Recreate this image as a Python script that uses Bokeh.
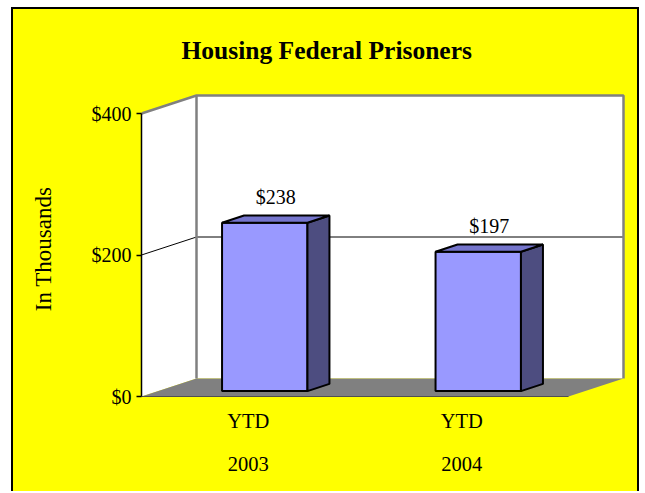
from bokeh.plotting import figure
from bokeh.models import LinearAxis, FixedTicker, Range1d, ColumnDataSource, Title
from bokeh.embed import file_html
from bokeh.resources import INLINE

# ---------------- data ----------------
title_text = "Housing Federal Prisoners"
categories_line1 = ["YTD", "YTD"]
categories_line2 = ["2003", "2004"]
values = [238, 197]
value_labels = ["$238", "$197"]
y_ticks = [0, 200, 400]
y_tick_labels = ["$0", "$200", "$400"]
y_title = "In Thousands"

# ---------------- layout / style constants ----------------
W, H = 628, 484
ML, MR, MT, MB = 128, 2, 84, 89
frame_w = W - ML - MR
frame_h = H - MT - MB
CAT_PX = 213.5          # pixels per category on the front plane
VAL_PX = 0.7075         # pixels per value unit
Y0_PX = 8               # pixels between frame bottom and the value 0
DX = 55 / CAT_PX        # full depth offset in data units
DY = 18 / VAL_PX
F1, F2 = 0.3, 0.7       # bar depth fractions (front, back)
BAR_W = 0.4
FONT = "Liberation Serif"
YELLOW = "#FFFF00"
GREY = "#808080"

ncat = len(values)
ymax = max(y_ticks)

p = figure(width=W, height=H, output_backend="svg", toolbar_location=None,
           x_range=Range1d(0, frame_w / CAT_PX),
           y_range=Range1d(-Y0_PX / VAL_PX, (frame_h - Y0_PX) / VAL_PX),
           x_axis_location=None, y_axis_location=None, title=None,
           min_border_left=ML, min_border_right=MR, min_border_top=MT, min_border_bottom=MB)
p.background_fill_color = YELLOW
p.border_fill_color = YELLOW
p.outline_line_color = None
p.xgrid.visible = False
p.ygrid.visible = False
p.styles = {"margin-left": "11px", "margin-top": "7px", "background-color": YELLOW,
            "border-left": "2px solid black", "border-top": "2px solid black",
            "border-right": "2px solid black"}

main_title = Title(text=title_text, align="left", offset=40, standoff=53, vertical_align="top",
                   text_font=FONT, text_font_size="25.5px", text_font_style="bold",
                   text_color="black")
p.add_layout(main_title, "above")

# ---------------- walls & floor ----------------
p.patch([0, DX, DX, 0], [0, DY, ymax + DY, ymax], fill_color="white", line_color=None)
p.quad(left=[DX], right=[ncat + DX], bottom=[DY], top=[ymax + DY], fill_color="white", line_color=None)
p.patch([0, DX, ncat + DX, ncat], [0, DY, DY, 0], fill_color=GREY, line_color=None)
p.line([0, ncat], [0, 0], line_color="#505050", line_width=1)

# gridlines
for t in y_ticks[1:-1]:
    p.line([0, DX, ncat + DX], [t, t + DY, t + DY], line_color="black", line_width=1)

# wall edges
p.line([0, DX, ncat + DX, ncat + DX], [ymax, ymax + DY, ymax + DY, DY], line_color=GREY, line_width=2.5)
p.line([DX, DX], [DY, ymax + DY], line_color=GREY, line_width=2.5)

# ---------------- bars ----------------
dd = (F2 - F1) * DX
ddy = (F2 - F1) * DY
L = [i + 0.5 - BAR_W / 2 + F1 * DX for i in range(ncat)]
R = [l + BAR_W for l in L]
B = [F1 * DY] * ncat
T = [v + F1 * DY for v in values]

side_xs = [[r, r + dd, r + dd, r] for r in R]
side_ys = [[b, b + ddy, t + ddy, t] for b, t in zip(B, T)]
top_xs = [[l, l + dd, r + dd, r] for l, r in zip(L, R)]
top_ys = [[t, t + ddy, t + ddy, t] for t in T]

p.quad(left=L, right=R, bottom=B, top=T, fill_color="#9999FF", line_color="black", line_width=2)
p.patches(side_xs, side_ys, fill_color="#4D4D80", line_color="black", line_width=2)
p.patches(top_xs, top_ys, fill_color="#7575CC", line_color="black", line_width=2)

lab_src = ColumnDataSource(dict(
    x=[i + 0.5 + (F1 + F2) / 2 * DX for i in range(ncat)],
    y=[v + F2 * DY for v in values],
    text=value_labels))
p.text(x="x", y="y", text="text", source=lab_src, text_align="center", text_baseline="middle",
       y_offset=-19, text_font=FONT, text_font_size="20px", text_color="black")

# ---------------- axes ----------------
yaxis = LinearAxis(ticker=FixedTicker(ticks=y_ticks),
                   major_label_overrides={t: s for t, s in zip(y_ticks, y_tick_labels)},
                   bounds=(0, ymax), axis_label=y_title)
yaxis.axis_line_color = "black"
yaxis.axis_line_width = 1.5
yaxis.major_tick_out = 5
yaxis.major_tick_in = 0
yaxis.major_tick_line_width = 1.5
yaxis.minor_tick_out = 0
yaxis.minor_tick_in = 0
yaxis.major_label_standoff = 5
yaxis.major_label_text_font = FONT
yaxis.major_label_text_font_size = "20px"
yaxis.major_label_text_color = "black"
yaxis.axis_label_text_font = FONT
yaxis.axis_label_text_font_size = "23px"
yaxis.axis_label_text_font_style = "normal"
yaxis.axis_label_text_color = "black"
yaxis.axis_label_standoff = 33
p.add_layout(yaxis, "left")

xticks = [i + 0.5 for i in range(ncat)]
for labels, standoff in ((categories_line1, 5), (categories_line2, 22)):
    ax = LinearAxis(ticker=FixedTicker(ticks=xticks),
                    major_label_overrides={t: s for t, s in zip(xticks, labels)})
    ax.axis_line_color = None
    ax.major_tick_line_color = None
    ax.minor_tick_line_color = None
    ax.major_tick_out = 0
    ax.major_tick_in = 0
    ax.major_label_standoff = standoff
    ax.major_label_text_font = FONT
    ax.major_label_text_font_size = "20.5px"
    ax.major_label_text_color = "black"
    p.add_layout(ax, "below")

open("out.html", "w").write(file_html(p, INLINE))
